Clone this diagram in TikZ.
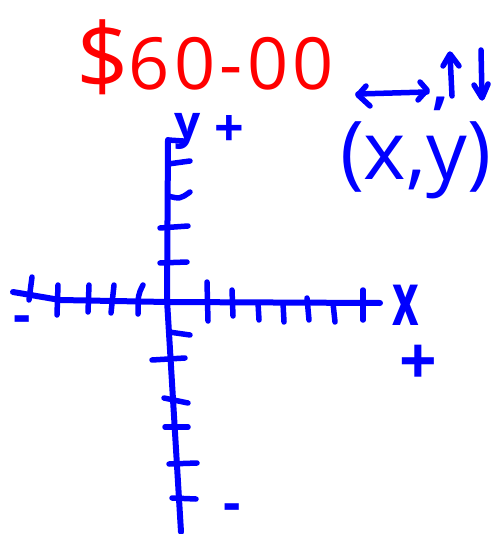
\documentclass[tikz,border=0pt]{standalone}
\usepackage{fontspec}
\setmainfont{Open Sans}
\definecolor{inkblue}{RGB}{0,0,255}
\definecolor{inkred}{RGB}{255,0,0}
\tikzset{
  ink/.style={draw=inkblue, line width=6pt, line cap=round, line join=round},
  tick/.style={ink, line width=5.5pt},
  bluetext/.style={text=inkblue, inner sep=0pt, outer sep=0pt},
  redtext/.style={text=inkred, inner sep=0pt, outer sep=0pt},
}
\begin{document}
\begin{tikzpicture}[x=1pt,y=-1pt]
\useasboundingbox (0,0) rectangle (493,534);
\fill[white] (0,0) rectangle (493,534);

% price
\node[redtext, anchor=base west] (price) at (76,90)
  {\addfontfeature{LetterSpace=6}{\fontsize{92}{92}\selectfont\smash{\$}}\fontsize{72}{72}\selectfont 60-00};

% direction arrows
\draw[ink, line width=5.5pt] (358,94) -- (427,92);
\draw[ink, line width=5.5pt] (366,86) -- (358,95) -- (370,106);
\draw[ink, line width=5.5pt] (420,82) -- (427,90) -- (418,100);
\node[bluetext, anchor=base] (comma) at (441,104) {\fontsize{56}{56}\selectfont\bfseries ,};
\draw[ink, line width=5.5pt] (452,96) -- (450,55);
\draw[ink, line width=5.5pt] (443,66) -- (450,54) -- (459,66);
\draw[ink, line width=5.5pt] (481,50) -- (482,97);
\draw[ink, line width=5.5pt] (474,85) -- (482,98) -- (488,84);

% ordered pair
\node[bluetext, anchor=base west] (pair) at (340,180) {\fontsize{81}{81}\selectfont (x,y)};

% axes
\draw[ink] (168,140) -- (167,300) -- (181,532);
\draw[ink] (13,292) -- (60,300) -- (167,302) -- (380,303);

% y ticks above
\draw[tick] (168,140) -- (183,141);
\draw[tick] (168,164) -- (190,161);
\draw[tick] (168,196) .. controls (180,199) .. (190,192);
\draw[tick] (160,228) -- (188,226);
\draw[tick] (160,263) -- (187,262);
% y ticks below
\draw[tick] (169,332) -- (190,335);
\draw[tick] (152,360) -- (185,358);
\draw[tick] (164,398) -- (188,403);
\draw[tick] (165,427) -- (188,427);
\draw[tick] (169,464) -- (197,463);
\draw[tick] (172,498) -- (196,499);

% x ticks left
\draw[tick] (32,277) -- (29,300);
\draw[tick] (58,285) -- (57,315);
\draw[tick] (89,285) -- (88,312);
\draw[tick] (114,285) -- (111,313);
\draw[tick] (143,285) .. controls (138,295) .. (138,314);
% x ticks right
\draw[tick] (207,282) -- (208,321);
\draw[tick] (232,290) -- (233,316);
\draw[tick] (258,303) -- (259,320);
\draw[tick] (283,303) -- (284,322);
\draw[tick] (307,298) -- (309,320);
\draw[tick] (333,303) -- (335,322);
\draw[tick] (363,290) -- (363,320);

% axis labels and signs
\node[bluetext, anchor=base] (ylab) at (188,139) {\fontsize{46}{46}\selectfont\bfseries y};
\node[bluetext] (yplus) at (229,131) {\fontsize{52}{52}\selectfont\bfseries +};
\node[bluetext, anchor=base] (xlab) at (406,325) {\fontsize{74}{74}\selectfont\bfseries\scalebox{0.62}[1]{x}};
\node[bluetext] (xplus) at (418,365) {\fontsize{66}{66}\selectfont\bfseries +};
\node[bluetext] (xminus) at (22,325) {\fontsize{54}{54}\selectfont\bfseries -};
\node[bluetext] (yminus) at (232,513) {\fontsize{54}{54}\selectfont\bfseries -};
\end{tikzpicture}
\end{document}
